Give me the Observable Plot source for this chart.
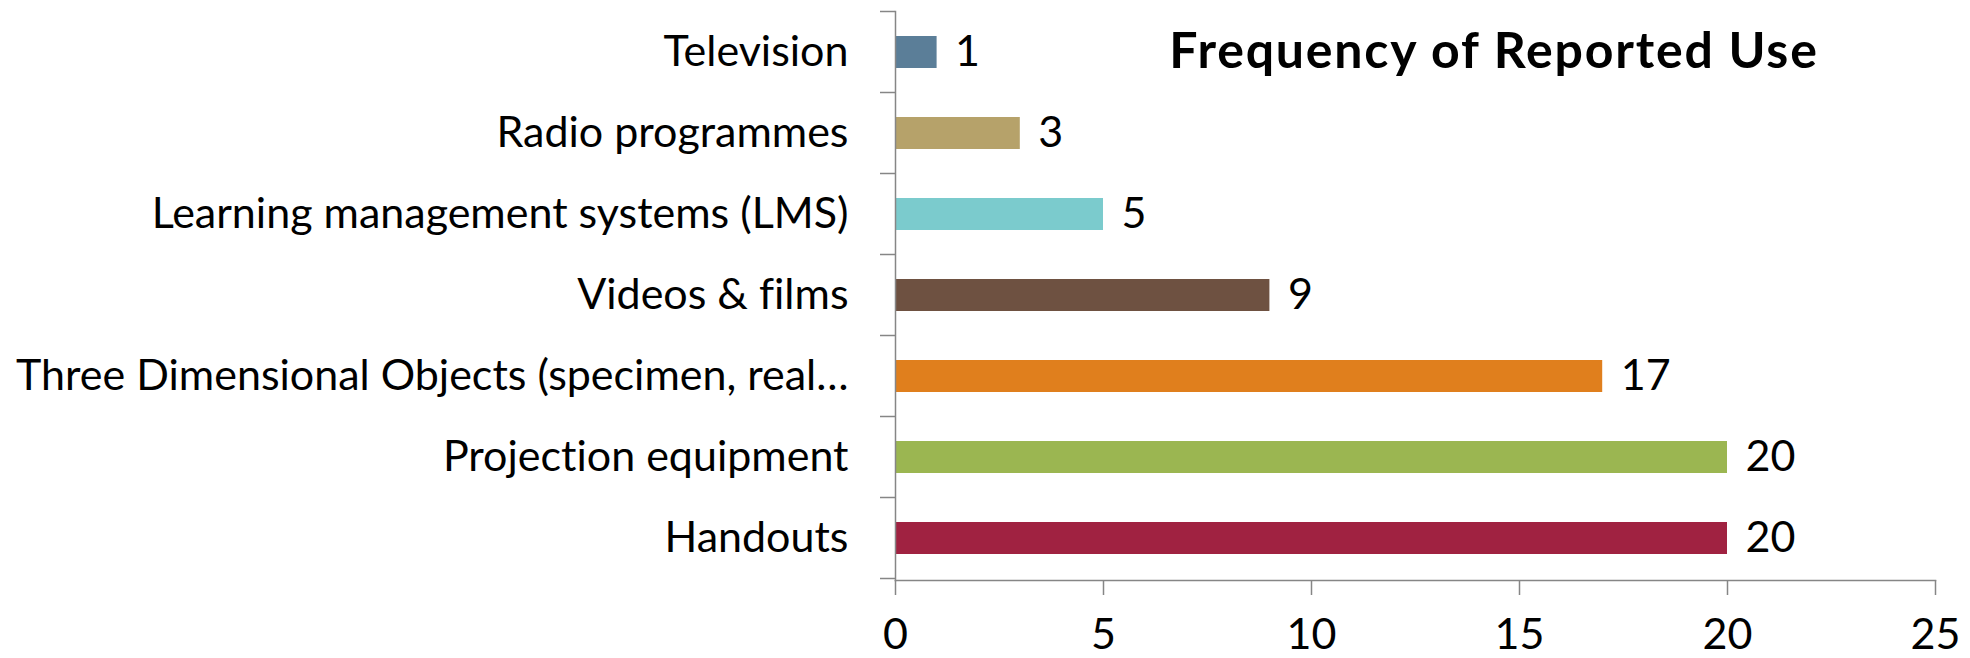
<!DOCTYPE html>
<html>
<head>
<meta charset="utf-8">
<script src="https://cdn.jsdelivr.net/npm/d3@7"></script>
<script src="https://cdn.jsdelivr.net/npm/@observablehq/plot@0.6"></script>
<style>
  html, body { margin: 0; padding: 0; background: #fff; }
  #wrap { position: relative; width: 1970px; height: 658px; }
  #wrap svg { overflow: visible; font-variant-ligatures: none; }
  #title { position: absolute; left: 1094px; width: 800px; top: 24px; text-align: center;
           font-family: Lato, sans-serif; font-weight: bold; font-size: 50px; line-height: 50px;
           letter-spacing: 1.8px; color: #000; font-variant-ligatures: none; }
</style>
</head>
<body>
<div id="wrap"><div id="title">Frequency of Reported Use</div></div>
<script>
const categories = [
  "Television",
  "Radio programmes",
  "Learning management systems (LMS)",
  "Videos & films",
  "Three Dimensional Objects (specimen, real…",
  "Projection equipment",
  "Handouts"
];
const values = [1, 3, 5, 9, 17, 20, 20];
const colors = ["#5B7E98", "#B6A26A", "#7BCBCD", "#6E5141", "#E07F1D", "#9BB651", "#A02241"];
const xTicks = [0, 5, 10, 15, 20, 25];

const data = categories.map((c, i) => ({cat: c, value: values[i], color: colors[i]}));
const grey = "#868686";

const plot = Plot.plot({
  width: 1970,
  height: 658,
  marginLeft: 895,
  marginRight: 35,
  marginTop: 11,
  marginBottom: 78,
  style: {fontFamily: "Lato, sans-serif", fontSize: "43px", color: "#000", background: "#fff", overflow: "visible"},
  x: {domain: [0, 25]},
  y: {domain: categories, paddingInner: 0.6, paddingOuter: 0.3},
  color: {type: "identity"},
  marks: [
    Plot.barX(data, {x: "value", y: "cat", fill: "color"}),
    Plot.text(data, {x: "value", y: "cat", text: d => String(d.value), textAnchor: "start", dx: 18, fill: "#000"}),
    Plot.frame({anchor: "left", stroke: grey, strokeWidth: 1.5}),
    Plot.frame({anchor: "bottom", stroke: grey, strokeWidth: 1.5}),
    Plot.axisX({ticks: xTicks, tickSize: 15, tickPadding: 23, stroke: grey, strokeWidth: 1.5, fill: "#000", label: null}),
    Plot.axisY({tickSize: 0, tickPadding: 47, fill: "#000", label: null})
  ]
});

// band-boundary ticks on the y axis, positioned from the plot's own scales
const ys = plot.scale("y");
const xs = plot.scale("x");
const x0 = xs.apply(0);
const bounds = categories.map(c => ys.apply(c) + ys.bandwidth / 2 - ys.step / 2);
bounds.push(ys.apply(categories[categories.length - 1]) + ys.bandwidth / 2 + ys.step / 2);
const svg = d3.select(plot);
svg.append("g").selectAll("line").data(bounds).join("line")
  .attr("x1", x0 - 15).attr("x2", x0)
  .attr("y1", d => d).attr("y2", d => d)
  .attr("stroke", grey).attr("stroke-width", 1.5);

document.getElementById("wrap").prepend(plot);
</script>
</body>
</html>
